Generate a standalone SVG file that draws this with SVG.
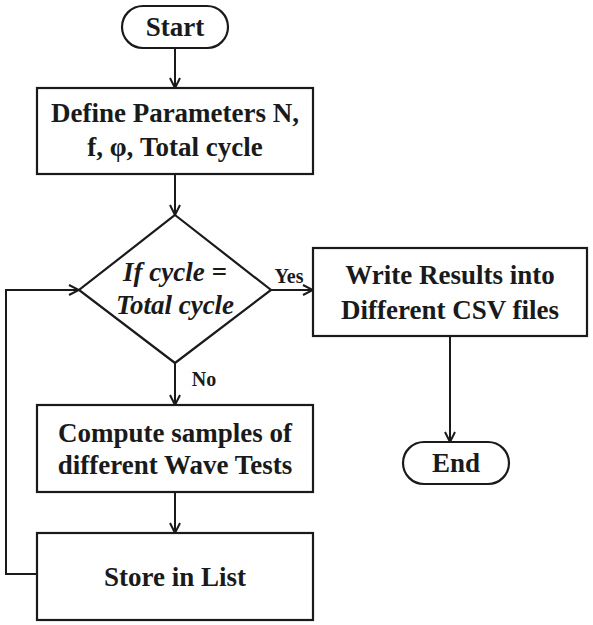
<svg xmlns="http://www.w3.org/2000/svg" width="593" height="625" viewBox="0 0 593 625">
<defs>
<style>
.n{fill:#fff;stroke:#1a1a1a;stroke-width:2.2}
.c{fill:none;stroke:#1a1a1a;stroke-width:2}
text{font-family:"Liberation Serif","DejaVu Serif",serif;font-weight:bold;fill:#1a1a1a;text-anchor:middle}
.t{font-size:27px}
.i{font-style:italic}
.s{font-size:20px}
</style>
<marker id="a" viewBox="0 0 12 12" refX="11" refY="6" markerWidth="12" markerHeight="12" markerUnits="userSpaceOnUse" orient="auto">
<path d="M1,1 L11,6 L1,11" fill="none" stroke="#1a1a1a" stroke-width="2"/>
</marker>
</defs>
<rect width="593" height="625" fill="#fff"/>
<g id="connectors">
<line class="c" x1="175" y1="48" x2="175" y2="88" marker-end="url(#a)"/>
<line class="c" x1="175" y1="174" x2="175" y2="215" marker-end="url(#a)"/>
<line class="c" x1="271" y1="290" x2="313" y2="290" marker-end="url(#a)"/>
<line class="c" x1="175" y1="363" x2="175" y2="405" marker-end="url(#a)"/>
<line class="c" x1="175" y1="492" x2="175" y2="533" marker-end="url(#a)"/>
<line class="c" x1="450" y1="336" x2="450" y2="442" marker-end="url(#a)"/>
<polyline class="c" points="37,574 6,574 6,290 79,290" marker-end="url(#a)"/>
<text class="s" x="289" y="283">Yes</text>
<text class="s" x="204" y="386">No</text>
</g>
<g id="start">
<rect class="n" x="122" y="6" width="106" height="42" rx="21"/>
<text class="t" x="175" y="36">Start</text>
</g>
<g id="define">
<rect class="n" x="37" y="88" width="276" height="86"/>
<text class="t" x="175" y="122">Define Parameters N,</text>
<text class="t" x="175" y="156">f, φ, Total cycle</text>
</g>
<g id="decision">
<polygon class="n" points="175,215 271,290 175,363 79,290"/>
<text class="t i" x="175" y="281">If cycle =</text>
<text class="t i" x="175" y="314">Total cycle</text>
</g>
<g id="write">
<rect class="n" x="313" y="248" width="274" height="88"/>
<text class="t" x="450" y="284">Write Results into</text>
<text class="t" x="450" y="319">Different CSV files</text>
</g>
<g id="end">
<rect class="n" x="403" y="442" width="106" height="42" rx="21"/>
<text class="t" x="456" y="472">End</text>
</g>
<g id="compute">
<rect class="n" x="37" y="405" width="276" height="87"/>
<text class="t" x="175" y="442">Compute samples of</text>
<text class="t" x="175" y="474">different Wave Tests</text>
</g>
<g id="store">
<rect class="n" x="37" y="533" width="276" height="87"/>
<text class="t" x="175" y="586">Store in List</text>
</g>
</svg>
